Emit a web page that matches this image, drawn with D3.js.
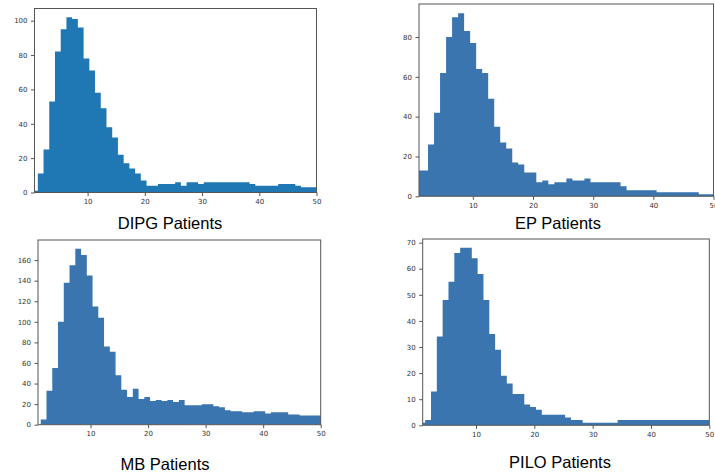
<!DOCTYPE html>
<html>
<head>
<meta charset="utf-8">
<script src="https://cdn.jsdelivr.net/npm/d3@7"></script>
<style>
  body { margin: 0; background: #fff; }
  svg { display: block; }
  .tick text { font-family: "DejaVu Sans", sans-serif; font-size: 7px; fill: #333; }
  .tick line { stroke: #555; }
  .title { font-family: "Liberation Sans", Arial, sans-serif; font-size: 16.5px; fill: #000; }
</style>
</head>
<body>
<div id="chart"></div>
<script>
"use strict";
// one count per bin of width 1, bins 1..50
const groups = ["DIPG Patients", "EP Patients", "MB Patients", "PILO Patients"];
const dipgCounts = [1, 11, 25, 53, 82, 95, 102, 101, 96, 78, 71, 58, 49, 38, 32, 22, 17, 14, 11, 7,
    4, 4, 5, 5, 5, 6, 4, 6, 6, 5, 6, 6, 6, 6, 6, 6, 6, 6, 5, 4, 4, 4, 4, 5, 5, 5, 4, 3, 3, 3];
const epCounts = [13, 13, 26, 42, 62, 80, 90, 92, 83, 77, 64, 62, 49, 35, 27, 24, 17, 16, 12, 12,
    7, 8, 6, 7, 7, 9, 8, 8, 9, 7, 7, 7, 7, 7, 5, 3, 3, 3, 3, 3, 2, 2, 2, 2, 2, 2, 2, 1, 1, 1];
const mbCounts = [0, 5, 33, 55, 100, 138, 155, 171, 165, 145, 115, 104, 76, 71, 48, 34, 27, 35, 25, 27,
    23, 24, 23, 24, 22, 24, 19, 19, 19, 20, 20, 18, 17, 14, 13, 13, 12, 12, 13, 13, 11, 12, 12, 12, 10, 10, 9, 9, 9, 9];
const piloCounts = [1, 2, 13, 34, 48, 55, 66, 68, 68, 64, 58, 48, 35, 29, 19, 16, 12, 12, 8, 7,
    6, 4, 4, 4, 4, 3, 2, 2, 1, 1, 1, 1, 1, 1, 2, 2, 2, 2, 2, 2, 2, 2, 2, 2, 2, 2, 2, 2, 2, 2];
const xTickValues = [10, 20, 30, 40, 50];
const dipgYTicks = [0, 20, 40, 60, 80, 100];
const epYTicks = [0, 20, 40, 60, 80];
const mbYTicks = [0, 20, 40, 60, 80, 100, 120, 140, 160];
const piloYTicks = [0, 10, 20, 30, 40, 50, 60, 70];

const W = 715, H = 475;
const svg = d3.select("#chart").append("svg")
    .attr("width", W).attr("height", H)
    .attr("viewBox", `0 0 ${W} ${H}`);

const panels = [
    { name: groups[0], counts: dipgCounts, yTicks: dipgYTicks, color: "#1f77b4",
      left: 34.5, right: 316.5, top: 8.5, bottom: 192.5, xMin: 0.72, binStart: 0.3, tx: 170, ty: 229 },
    { name: groups[1], counts: epCounts, yTicks: epYTicks, color: "#3a75af",
      left: 419, right: 713.5, top: 4, bottom: 196.3, xMin: 1.05, binStart: 0.55, tx: 558, ty: 229 },
    { name: groups[2], counts: mbCounts, yTicks: mbYTicks, color: "#3a75af",
      left: 38, right: 320.7, top: 240, bottom: 424.7, xMin: 0.87, binStart: 0.35, tx: 165, ty: 470 },
    { name: groups[3], counts: piloCounts, yTicks: piloYTicks, color: "#3a75af",
      left: 422.7, right: 709.3, top: 239, bottom: 425.3, xMin: 0.86, binStart: 0.28, tx: 560, ty: 468 }
];

panels.forEach((p, i) => {
    const x = d3.scaleLinear().domain([p.xMin, 50]).range([p.left, p.right]);
    const yMax = d3.max(p.counts) * 1.05;
    const y = d3.scaleLinear().domain([0, yMax]).range([p.bottom, p.top]);
    const g = svg.append("g");

    const clipId = "clip" + i;
    g.append("clipPath").attr("id", clipId)
        .append("rect")
        .attr("x", p.left).attr("y", p.top)
        .attr("width", p.right - p.left).attr("height", p.bottom - p.top);

    // bin edges, last one repeated so the step closes
    const steps = p.counts.map((c, k) => ({ x0: p.binStart + k, c }));
    steps.push({ x0: p.binStart + p.counts.length, c: p.counts[p.counts.length - 1] });

    const area = d3.area()
        .curve(d3.curveStepAfter)
        .x(d => x(d.x0))
        .y0(y(0))
        .y1(d => y(d.c));

    g.append("path")
        .datum(steps)
        .attr("clip-path", `url(#${clipId})`)
        .attr("fill", p.color)
        .attr("d", area);

    const xAxis = g.append("g")
        .attr("transform", `translate(0,${p.bottom})`)
        .call(d3.axisBottom(x).tickValues(xTickValues).tickSize(3.5).tickPadding(3));
    xAxis.select(".domain").remove();

    const yAxis = g.append("g")
        .attr("transform", `translate(${p.left},0)`)
        .call(d3.axisLeft(y).tickValues(p.yTicks).tickSize(3.5).tickPadding(3.5));
    yAxis.select(".domain").remove();

    g.append("rect")
        .attr("x", p.left).attr("y", p.top)
        .attr("width", p.right - p.left).attr("height", p.bottom - p.top)
        .attr("fill", "none")
        .attr("stroke", "#555")
        .attr("stroke-width", 1);

    g.append("text")
        .attr("class", "title")
        .attr("x", p.tx).attr("y", p.ty)
        .attr("text-anchor", "middle")
        .text(p.name);
});
</script>
</body>
</html>
